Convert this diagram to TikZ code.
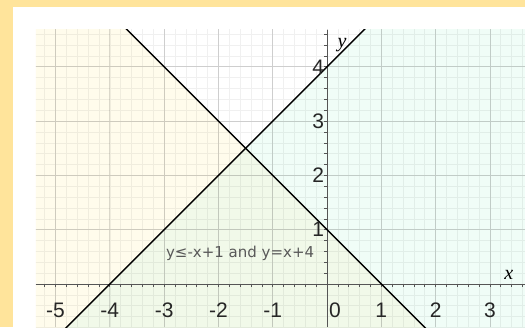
\documentclass[tikz,border=0pt]{standalone}
\usepackage{fontspec}
\setmainfont{Liberation Sans}
\newfontfamily\notefont{DejaVu Sans}
\newfontfamily\varfont{Liberation Serif}
\definecolor{frame}{HTML}{FFE49B}
\definecolor{cream}{HTML}{FFFCEC}
\definecolor{mint}{HTML}{F0FDF7}
\definecolor{overlap}{HTML}{F1F9E9}
\definecolor{axis}{HTML}{555555}
\begin{document}
\begin{tikzpicture}
[x=54.3pt, y=54.3pt, font=\fontsize{21}{21}\selectfont]

\tikzstyle{minorgrid}=[black, opacity=0.06, line width=0.6pt]
\tikzstyle{majorgrid}=[black, opacity=0.14, line width=0.7pt]
\tikzstyle{axisline}=[axis, line width=0.9pt]
\tikzstyle{graph}=[black, line width=1.4pt]
\tikzstyle{ticklabel}=[text=black!85, inner sep=0pt]
\tikzstyle{varlabel}=[font=\varfont\itshape\fontsize{20}{20}\selectfont, inner sep=0pt]

\useasboundingbox (-6.022,-0.792) rectangle (3.646,5.230);
\fill[frame] (-6.022,-0.792) rectangle (3.646,5.230);
\fill[white] (-5.783,-0.792) rectangle (3.646,5.101);

\coordinate (P1) at (-5.359,-0.792);
\coordinate (P2) at (3.646,4.678);

\begin{scope}
\clip (P1) rectangle (P2);
% shaded regions
\fill[mint] (-6,-2) -- (1,5) -- (4,5) -- (4,-2) -- cycle;
\fill[cream] (-6,7) -- (3,-2) -- (-6,-2) -- cycle;
\fill[overlap] (-6,-2) -- (-1.5,2.5) -- (3,-2) -- cycle;
% grid
\draw[minorgrid, step=0.2] (-5.4,-0.8) grid (3.7,4.7);
\draw[majorgrid, step=1] (-5.4,-0.8) grid (3.7,4.7);
% axes
\coordinate (XL) at (-5.359,0);
\coordinate (XR) at (3.646,0);
\coordinate (YB) at (0,-0.792);
\coordinate (YT) at (0,4.678);
\draw[axisline] (XL) -- (XR);
\draw[axisline] (YB) -- (YT);
\foreach \t in {-26,...,18}
  \draw[axis, line width=0.6pt] (\t/5,0) -- ++(0,-0.05);
\foreach \t in {1,...,23}
  \draw[axis, line width=0.6pt] (0,\t/5) -- ++(-0.05,0);
% lines
\coordinate (A1) at (-5,-1);
\coordinate (A2) at (1,5);
\coordinate (B1) at (-4,5);
\coordinate (B2) at (2,-1);
\draw[graph] (A1) -- (A2);
\draw[graph] (B1) -- (B2);
\end{scope}

% tick labels
\foreach \n [count=\i] in {-5,-4,-3,-2,-1,1,2,3}
  \node[ticklabel] (xt\i) at (\n,-0.48) {\n};
\node[ticklabel] (xt0) at (0.147,-0.48) {0};
\foreach \n in {1,2,3,4}
  \node[ticklabel, anchor=east] (yt\n) at (-0.05,\n) {\n};

\node[varlabel] (xname) at (3.35,0.16) {x};
\node[varlabel] (yname) at (0.276,4.40) {y};

\node[text=black!65, font=\notefont\fontsize{15}{15}\selectfont] (note) at (-1.60,0.571) {y≤-x+1 and y=x+4};
\end{tikzpicture}
\end{document}
